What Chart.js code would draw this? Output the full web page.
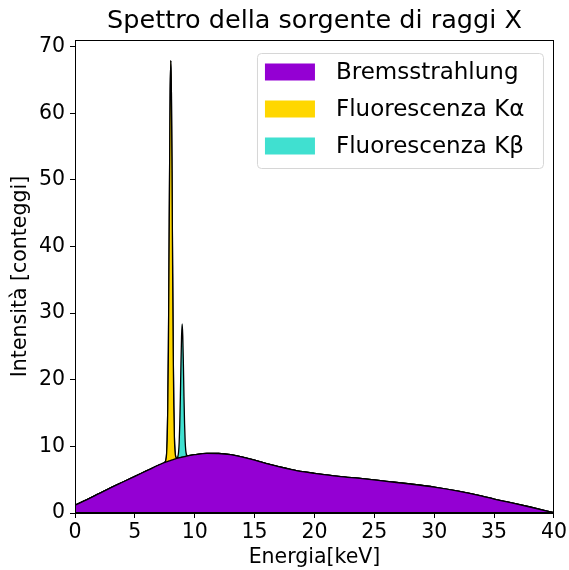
<!DOCTYPE html>
<html>
<head>
<meta charset="utf-8">
<script src="https://cdn.jsdelivr.net/npm/chart.js@4/dist/chart.umd.min.js"></script>
<style>
  html, body { margin: 0; padding: 0; background: #fff; }
  #wrap { width: 569px; height: 570px; }
</style>
</head>
<body>
<div id="wrap"><canvas id="chartSpettro" width="569" height="570"></canvas></div>
<script>
// energia in keV
const energia = [0, 1, 2, 3, 4, 5, 6, 7, 7.5, 7.6,
  7.65, 7.7, 7.75, 7.8, 7.85, 7.9, 7.95, 8.0, 8.05, 8.1,
  8.15, 8.2, 8.25, 8.3, 8.35, 8.4, 8.45, 8.5, 8.55, 8.6,
  8.65, 8.7, 8.75, 8.8, 8.85, 8.9, 8.95, 9.0, 9.05, 9.1,
  9.15, 9.2, 9.25, 9.3, 9.35, 9.4, 9.5, 10, 11, 12,
  13, 14, 15, 16, 17, 18, 19, 20, 22, 24,
  26, 28, 30, 32, 34, 35, 36, 38, 40];

const bremsstrahlung = [1.15, 2.0, 2.9, 3.8, 4.65, 5.5, 6.35, 7.2, 7.6, 7.66,
  7.69, 7.72, 7.75, 7.78, 7.81, 7.84, 7.87, 7.9, 7.93, 7.96,
  7.99, 8.02, 8.05, 8.08, 8.11, 8.14, 8.17, 8.2, 8.22, 8.24,
  8.26, 8.28, 8.3, 8.32, 8.34, 8.36, 8.38, 8.4, 8.42, 8.44,
  8.46, 8.48, 8.5, 8.52, 8.54, 8.56, 8.6, 8.75, 8.95, 8.93,
  8.75, 8.4, 7.95, 7.4, 6.95, 6.55, 6.2, 5.95, 5.5, 5.15,
  4.75, 4.35, 3.9, 3.3, 2.55, 2.1, 1.7, 0.9, 0.05];

const kAlfa = [0, 0, 0, 0, 0, 0, 0, 0, 0, 0.4,
  1.2, 3.3, 8.1, 16.6, 29.2, 43.5, 55.3, 60.0, 55.3, 43.5,
  29.2, 16.6, 8.1, 3.3, 1.2, 0.4, 0.1, 0, 0, 0,
  0, 0, 0, 0, 0, 0, 0, 0, 0, 0,
  0, 0, 0, 0, 0, 0, 0, 0, 0, 0,
  0, 0, 0, 0, 0, 0, 0, 0, 0, 0,
  0, 0, 0, 0, 0, 0, 0, 0, 0];

const kBeta = [0, 0, 0, 0, 0, 0, 0, 0, 0, 0,
  0, 0, 0, 0, 0, 0, 0, 0, 0, 0,
  0, 0, 0, 0, 0, 0, 0, 0, 0.1, 0.3,
  0.9, 2.3, 5.0, 9.1, 14.1, 18.2, 20.0, 18.2, 14.1, 9.1,
  5.0, 2.3, 0.9, 0.3, 0.1, 0, 0, 0, 0, 0,
  0, 0, 0, 0, 0, 0, 0, 0, 0, 0,
  0, 0, 0, 0, 0, 0, 0, 0, 0];

const xTicks = [0, 5, 10, 15, 20, 25, 30, 35, 40];
const yTicks = [0, 10, 20, 30, 40, 50, 60, 70];

const titolo = 'Spettro della sorgente di raggi X';
const etichette = ['Bremsstrahlung', 'Fluorescenza Kα', 'Fluorescenza Kβ'];
const colori = ['#9400D3', '#FFD700', '#40E0D0'];

const font = 'DejaVu Sans';

function punti(valori) {
  return energia.map((e, i) => ({ x: e, y: valori[i] }));
}

// cornice completa + titolo centrato sugli assi
const cornice = {
  id: 'cornice',
  afterDatasetsDraw(chart) {
    const a = chart.chartArea;
    const c = chart.ctx;
    c.save();
    c.strokeStyle = '#000';
    c.lineWidth = 1;
    c.strokeRect(Math.round(a.left) + 0.5, Math.round(a.top) + 0.5,
      Math.round(a.right - a.left) - 1, Math.round(a.bottom - a.top) - 1);
    c.font = '25.5px "' + font + '"';
    c.textAlign = 'center';
    c.textBaseline = 'middle';
    c.fillStyle = '#000';
    c.fillText(titolo, (a.left + a.right) / 2, 21);
    c.restore();
  }
};

// legenda in stile matplotlib dentro l'area
const legenda = {
  id: 'legenda',
  afterDraw(chart) {
    const a = chart.chartArea;
    const c = chart.ctx;
    const x0 = a.right - 11 - 286, y0 = a.top + 13, w = 286, h = 115;
    c.save();
    c.fillStyle = 'rgba(255,255,255,0.8)';
    c.strokeStyle = '#d6d6d6';
    c.lineWidth = 1;
    c.beginPath();
    c.roundRect(x0 + 0.5, y0 + 0.5, w, h, 4);
    c.fill();
    c.stroke();
    c.font = '23px "' + font + '"';
    c.textBaseline = 'middle';
    etichette.forEach((t, i) => {
      const cy = y0 + 19 + i * 37;
      c.fillStyle = colori[i];
      c.fillRect(x0 + 8, cy - 8.5, 50, 17);
      c.fillStyle = '#000';
      c.fillText(t, x0 + 79, cy + 1);
    });
    c.restore();
  }
};

const ctx = document.getElementById('chartSpettro');

new Chart(ctx, {
  type: 'line',
  data: {
    datasets: [{
      label: etichette[0],
      data: punti(bremsstrahlung),
      backgroundColor: colori[0],
      borderColor: '#000',
      borderWidth: 1.3,
      fill: 'origin'
    }, {
      label: etichette[1],
      data: punti(kAlfa),
      backgroundColor: colori[1],
      borderColor: '#000',
      borderWidth: 1.3,
      fill: '-1'
    }, {
      label: etichette[2],
      data: punti(kBeta),
      backgroundColor: colori[2],
      borderColor: '#000',
      borderWidth: 1.3,
      fill: '-1'
    }]
  },
  options: {
    responsive: false,
    animation: false,
    layout: { padding: { left: 0, right: 3, top: 40, bottom: 0 } },
    elements: {
      point: { radius: 0 },
      line: { cubicInterpolationMode: 'monotone' }
    },
    plugins: {
      legend: { display: false },
      tooltip: { enabled: false },
      title: { display: false }
    },
    scales: {
      x: {
        type: 'linear',
        min: 0,
        max: 40,
        afterBuildTicks: s => { s.ticks = xTicks.map(v => ({ value: v })); },
        afterFit: s => { s.height = 57; },
        grid: { drawOnChartArea: false, drawTicks: true, tickLength: 5, tickColor: '#000' },
        border: { display: true, color: '#000', width: 1 },
        ticks: { color: '#000', padding: 2, maxRotation: 0, font: { family: font, size: 20.5 } },
        title: {
          display: true,
          text: 'Energia[keV]',
          color: '#000',
          padding: { top: 0, bottom: 0 },
          font: { family: font, size: 20.5 }
        }
      },
      y: {
        stacked: true,
        min: 0,
        max: 71,
        afterBuildTicks: s => { s.ticks = yTicks.map(v => ({ value: v })); },
        afterFit: s => { s.width = 75; },
        grid: { drawOnChartArea: false, drawTicks: true, tickLength: 5, tickColor: '#000' },
        border: { display: true, color: '#000', width: 1 },
        ticks: { color: '#000', padding: 5, font: { family: font, size: 20.5 } },
        title: {
          display: true,
          text: 'Intensità [conteggi]',
          color: '#000',
          padding: { top: 8, bottom: 0 },
          font: { family: font, size: 20.5 }
        }
      }
    }
  },
  plugins: [cornice, legenda]
});
</script>
</body>
</html>
